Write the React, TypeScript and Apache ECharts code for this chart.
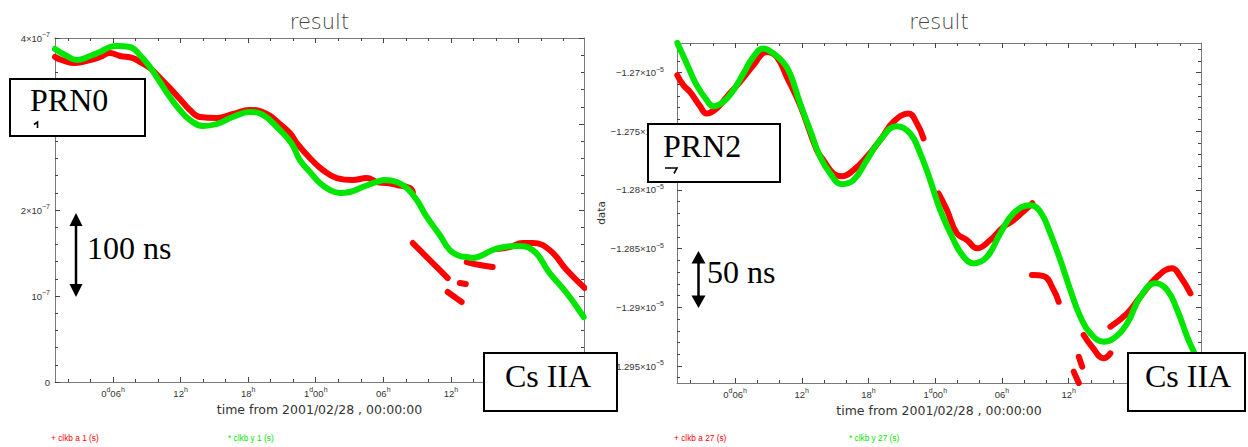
import React, { useEffect, useRef } from "react";
import * as echarts from "echarts";

// ---------- tick values and labels ----------
const hourMajorTicks = [6, 12, 18, 24, 30, 36, 42];
// the 42h label sits behind the "Cs IIA" box in the reference, so only these are labelled
const hourLabelTicks = [6, 12, 18, 24, 30, 36];
const hourLabels = [
  "{n|0}{s|d}{n|06}{s|h}",
  "{n|12}{s|h}",
  "{n|18}{s|h}",
  "{n|1}{s|d}{n|00}{s|h}",
  "{n|06}{s|h}",
  "{n|12}{s|h}",
];
const hourMinorTicks = [2, 4, 8, 10, 14, 16, 20, 22, 26, 28, 32, 34, 38, 40, 44, 46];

const prn0HourRange = [0.85, 47.82];
const prn2HourRange = [0.78, 47.9];

// 3×10⁻⁷ sits behind the "PRN0" box in the reference
const prn0TickValues = [0, 1e-7, 2e-7, 4e-7];
const prn0TickLabels = ["{n|0}", "{n|10}{s|−7}", "{n|2×10}{s|−7}", "{n|4×10}{s|−7}"];
const prn0ValueRange = [0, 4e-7];

const prn2ValueRange = [-1.296448e-5, -1.267487e-5];
const prn2TickValues = [-1.295e-5, -1.29e-5, -1.285e-5, -1.28e-5, -1.275e-5, -1.27e-5];
const prn2TickLabels = [
  "{n|−1.295×10}{s|−5}",
  "{n|−1.29×10}{s|−5}",
  "{n|−1.285×10}{s|−5}",
  "{n|−1.28×10}{s|−5}",
  "{n|−1.275×10}{s|−5}",
  "{n|−1.27×10}{s|−5}",
];
const prn2MinorTicks = [
  -1.296e-5, -1.294e-5, -1.293e-5, -1.292e-5, -1.291e-5, -1.289e-5, -1.288e-5, -1.287e-5,
  -1.286e-5, -1.284e-5, -1.283e-5, -1.282e-5, -1.281e-5, -1.279e-5, -1.278e-5, -1.277e-5,
  -1.276e-5, -1.274e-5, -1.273e-5, -1.272e-5, -1.271e-5, -1.269e-5, -1.268e-5,
];

// ---------- PRN0 (left) ----------
const prn0GreenHours = [
  0.85, 1.74, 2.8, 3.96, 4.84, 5.73, 6.35, 7.5, 8.39, 9.28, 10.17, 11.05, 11.94, 12.83, 13.98,
  15.22, 16.64, 18.15, 19.31, 20.55, 21.83, 22.59, 23.48, 24.36, 25.25, 26.14, 27.03, 28.18,
  29.42, 30.13, 31.2, 32.08, 32.97, 33.86, 35.01, 35.9, 36.79, 37.41, 37.94, 38.83, 39.71, 40.78,
  41.84, 43.26, 44.77, 46.28, 47.79,
];
const prn0GreenValues = [
  3.872e-7, 3.802e-7, 3.744e-7, 3.791e-7, 3.837e-7, 3.895e-7, 3.907e-7, 3.895e-7, 3.802e-7,
  3.663e-7, 3.488e-7, 3.314e-7, 3.163e-7, 3.047e-7, 2.977e-7, 3.0e-7, 3.081e-7, 3.14e-7,
  3.105e-7, 2.965e-7, 2.779e-7, 2.581e-7, 2.442e-7, 2.314e-7, 2.233e-7, 2.198e-7, 2.209e-7,
  2.267e-7, 2.326e-7, 2.349e-7, 2.326e-7, 2.256e-7, 2.116e-7, 1.919e-7, 1.709e-7, 1.535e-7,
  1.465e-7, 1.453e-7, 1.442e-7, 1.477e-7, 1.535e-7, 1.57e-7, 1.581e-7, 1.535e-7, 1.267e-7,
  1.035e-7, 0.756e-7,
];
// null marks a break between separate red segments
const prn0RedHours = [
  0.85, 1.47, 2.62, 3.96, 4.84, 5.73, 6.62, 7.77, 8.39, 9.28, 10.17, 11.05, 11.94, 12.83, 13.72,
  15.22, 16.64, 18.15, 19.66, 20.81, 21.7, 22.32, 23.48, 24.63, 25.87, 27.29, 28.53, 29.42,
  30.31, 31.2, 32.35, 32.62,
  null, 32.62, 33.86, 34.75, 35.72,
  null, 36.79, 37.32,
  null, 35.72, 36.34, 36.96,
  null, 37.41, 38.56, 39.71,
  null, 40.07, 41.22, 42.38, 43.26, 44.77, 46.28, 47.88,
];
const prn0RedValues = [
  3.779e-7, 3.744e-7, 3.709e-7, 3.744e-7, 3.779e-7, 3.826e-7, 3.791e-7, 3.767e-7, 3.721e-7,
  3.651e-7, 3.535e-7, 3.419e-7, 3.291e-7, 3.163e-7, 3.081e-7, 3.07e-7, 3.116e-7, 3.163e-7,
  3.116e-7, 3.0e-7, 2.895e-7, 2.779e-7, 2.605e-7, 2.465e-7, 2.372e-7, 2.349e-7, 2.372e-7,
  2.326e-7, 2.314e-7, 2.291e-7, 2.256e-7, 2.209e-7,
  null, 1.616e-7, 1.453e-7, 1.337e-7, 1.209e-7,
  null, 1.151e-7, 1.14e-7,
  null, 1.047e-7, 0.988e-7, 0.93e-7,
  null, 1.395e-7, 1.36e-7, 1.337e-7,
  null, 1.547e-7, 1.57e-7, 1.616e-7, 1.616e-7, 1.535e-7, 1.302e-7, 1.093e-7,
];

// ---------- PRN2 (right) ----------
const prn2GreenHours = [
  0.81, 1.65, 2.55, 3.45, 4.05, 4.95, 5.85, 6.75, 7.65, 8.55, 9.45, 10.32, 10.95, 11.85, 12.75,
  13.65, 14.55, 15.6, 16.65, 17.85, 19.05, 20.55, 21.75, 22.65, 23.55, 24.45, 25.65, 26.55,
  27.45, 28.66, 29.85, 31.05, 32.55, 33.45, 34.35, 35.25, 36.15, 37.05, 37.95, 39.15, 40.05,
  41.26, 42.45, 43.8, 44.86, 45.76, 46.66, 47.25, 47.94,
];
const prn2GreenValues = [
  -1.26748e-5, -1.26923e-5, -1.27108e-5, -1.27236e-5, -1.27287e-5, -1.2725e-5, -1.27151e-5,
  -1.27009e-5, -1.26867e-5, -1.26796e-5, -1.26838e-5, -1.26912e-5, -1.27009e-5, -1.27264e-5,
  -1.27491e-5, -1.27718e-5, -1.2786e-5, -1.27951e-5, -1.27917e-5, -1.27747e-5, -1.27576e-5,
  -1.27457e-5, -1.27519e-5, -1.27689e-5, -1.27917e-5, -1.28172e-5, -1.28427e-5, -1.2857e-5,
  -1.28626e-5, -1.2857e-5, -1.2837e-5, -1.28198e-5, -1.2813e-5, -1.28187e-5, -1.2837e-5,
  -1.28598e-5, -1.28853e-5, -1.2908e-5, -1.29222e-5, -1.29293e-5, -1.29264e-5, -1.29137e-5,
  -1.2891e-5, -1.28796e-5, -1.28853e-5, -1.29023e-5, -1.29251e-5, -1.29378e-5, -1.29517e-5,
];
const prn2RedHours = [
  0.81, 1.35, 1.95, 2.85, 3.45, 4.35, 5.25, 6.45, 7.65, 8.85, 9.75, 10.65, 11.85, 13.35, 13.95,
  14.85, 15.6, 16.65, 17.85, 19.05, 20.25, 21.6, 22.36, 22.95,
  null, 24.3, 25.05, 25.95, 26.86, 27.76, 28.95, 30.15, 31.05, 32.55, 32.73,
  null, 32.7, 33.74, 34.65, 35.1,
  null, 37.35, 38.1, 39.15, 39.75,
  null, 39.75, 41.26, 42.45, 43.96, 45.31, 46.05, 46.95,
  null, 36.91, 37.22,
  null, 36.45, 36.91,
];
const prn2RedValues = [
  -1.27023e-5, -1.27108e-5, -1.27165e-5, -1.27287e-5, -1.27349e-5, -1.27306e-5, -1.27208e-5,
  -1.2708e-5, -1.26938e-5, -1.26825e-5, -1.26867e-5, -1.27037e-5, -1.27278e-5, -1.27661e-5,
  -1.27747e-5, -1.2786e-5, -1.27883e-5, -1.27832e-5, -1.27718e-5, -1.27576e-5, -1.2742e-5,
  -1.27349e-5, -1.27434e-5, -1.27562e-5,
  null, -1.2803e-5, -1.28172e-5, -1.2837e-5, -1.28427e-5, -1.28498e-5, -1.28427e-5, -1.28314e-5,
  -1.28257e-5, -1.2813e-5, -1.28113e-5,
  null, -1.28725e-5, -1.28734e-5, -1.28853e-5, -1.28953e-5,
  null, -1.29236e-5, -1.29336e-5, -1.29434e-5, -1.29392e-5,
  null, -1.29165e-5, -1.29051e-5, -1.2891e-5, -1.2874e-5, -1.28668e-5, -1.2874e-5, -1.28881e-5,
  null, -1.29421e-5, -1.29506e-5,
  null, -1.29548e-5, -1.29645e-5,
];

// ---------- helpers ----------
const AXIS_COLOR = "#7a7a7a";
const TICK_COLOR = "#444";
const TICK_FONT = "Liberation Sans";
const NAME_FONT = "DejaVu Sans";
const RED = "#ff0000";
const GREEN = "#00e600";

const rich = {
  n: { fontSize: 9.5, fontFamily: TICK_FONT, color: "#333", lineHeight: 14 },
  s: { fontSize: 7, fontFamily: TICK_FONT, color: "#333", verticalAlign: "top", lineHeight: 9 },
};

function labelFor(values: number[], labels: string[], v: number) {
  let best = 0;
  for (let i = 1; i < values.length; i++) {
    if (Math.abs(values[i] - v) < Math.abs(values[best] - v)) best = i;
  }
  return Math.abs(values[best] - v) < Math.abs(values[1] - values[0]) * 0.01 ? labels[best] : "";
}

function segments(hours: (number | null)[], values: (number | null)[]) {
  const out: number[][][] = [];
  let cur: number[][] = [];
  hours.forEach((h, i) => {
    const v = values[i];
    if (h === null || v === null) {
      if (cur.length) out.push(cur);
      cur = [];
    } else cur.push([h, v]);
  });
  if (cur.length) out.push(cur);
  return out;
}

function hourAxis(gridIndex: number, range: number[], position: string, major: boolean, labels: boolean, name?: string) {
  return {
    type: "value",
    gridIndex,
    position,
    min: range[0],
    max: range[1],
    silent: true,
    splitLine: { show: false },
    axisLine: { show: major, onZero: false, lineStyle: { color: AXIS_COLOR, width: 1 } },
    axisTick: {
      show: true,
      inside: true,
      length: major ? 5 : 3,
      customValues: major ? hourMajorTicks : hourMinorTicks,
      lineStyle: { color: TICK_COLOR, width: 1 },
    },
    axisLabel: labels
      ? {
          show: true,
          customValues: hourLabelTicks,
          margin: 4,
          formatter: (v: number) => labelFor(hourLabelTicks, hourLabels, v),
          rich,
        }
      : { show: false },
    name: name || "",
    nameLocation: "middle",
    nameGap: 15,
    nameTextStyle: { fontFamily: NAME_FONT, fontSize: 12.5, color: "#333" },
  };
}

function prn2ValueAxis(position: string, major: boolean, labels: boolean, name?: string) {
  return {
    type: "value",
    gridIndex: 1,
    position,
    min: prn2ValueRange[0],
    max: prn2ValueRange[1],
    silent: true,
    splitLine: { show: false },
    axisLine: { show: major, onZero: false, lineStyle: { color: AXIS_COLOR, width: 1 } },
    axisTick: {
      show: true,
      inside: true,
      length: major ? 5 : 3,
      customValues: major ? prn2TickValues : prn2MinorTicks,
      lineStyle: { color: TICK_COLOR, width: 1 },
    },
    axisLabel: labels
      ? {
          show: true,
          customValues: prn2TickValues,
          margin: 13,
          formatter: (v: number) => labelFor(prn2TickValues, prn2TickLabels, v),
          rich,
        }
      : { show: false },
    name: name || "",
    nameLocation: "middle",
    nameGap: 63,
    nameTextStyle: { fontFamily: NAME_FONT, fontSize: 10.5, color: "#333" },
  };
}

function prn0ValueAxis(position: string, labels: boolean) {
  return {
    type: "value",
    gridIndex: 0,
    position,
    min: prn0ValueRange[0],
    max: prn0ValueRange[1],
    interval: 1e-7,
    silent: true,
    splitLine: { show: false },
    minorSplitLine: { show: false },
    axisLine: { show: true, onZero: false, lineStyle: { color: AXIS_COLOR, width: 1 } },
    axisTick: { show: true, inside: true, length: 5, lineStyle: { color: TICK_COLOR, width: 1 } },
    minorTick: { show: true, splitNumber: 5, length: 3, lineStyle: { color: TICK_COLOR, width: 1 } },
    axisLabel: labels
      ? {
          show: true,
          margin: 5,
          formatter: (v: number) => labelFor(prn0TickValues, prn0TickLabels, v),
          rich,
        }
      : { show: false },
  };
}

function lineSeries(data: number[][], color: string, xAxisIndex: number, yAxisIndex: number, z: number) {
  return {
    type: "line",
    xAxisIndex,
    yAxisIndex,
    data,
    symbol: "none",
    showSymbol: false,
    smooth: 0.45,
    silent: true,
    z,
    lineStyle: { color, width: 6, cap: "round", join: "round" },
    itemStyle: { color },
  };
}

function serifText(text: string, x: number, y: number, size = 32) {
  return {
    type: "text",
    z: 101,
    silent: true,
    style: {
      text,
      x,
      y,
      fontSize: size,
      fontFamily: "Liberation Serif",
      fill: "#000",
      align: "left",
      verticalAlign: "middle",
      textAlign: "left",
      textVerticalAlign: "middle",
    },
  };
}

function boxRect(x: number, y: number, w: number, h: number) {
  return { type: "rect", z: 100, silent: true, shape: { x, y, width: w, height: h }, style: { fill: "#fff", stroke: "#000", lineWidth: 2 } };
}

// cut-off glyph fragments drawn inside the PRN boxes
function fragment(points: number[][]) {
  return { type: "polyline", z: 101, silent: true, shape: { points }, style: { stroke: "#000", lineWidth: 1.6, fill: null } };
}

function arrow(x: number, yTop: number, yBottom: number, head: number, halfW: number) {
  return [
    { type: "line", z: 101, silent: true, shape: { x1: x, y1: yTop + head - 1, x2: x, y2: yBottom - head + 1 }, style: { stroke: "#000", lineWidth: 2.5 } },
    { type: "polygon", z: 101, silent: true, shape: { points: [[x - halfW, yTop + head], [x + halfW, yTop + head], [x, yTop]] }, style: { fill: "#000" } },
    { type: "polygon", z: 101, silent: true, shape: { points: [[x - halfW, yBottom - head], [x + halfW, yBottom - head], [x, yBottom]] }, style: { fill: "#000" } },
  ];
}

function smallText(text: string, x: number, y: number, color: string) {
  return {
    type: "text",
    z: 50,
    silent: true,
    style: { text, x, y, fontSize: 8.3, fontFamily: "Liberation Sans", fill: color, align: "left", verticalAlign: "middle", textAlign: "left", textVerticalAlign: "middle" },
  };
}

function titleText(x: number) {
  return {
    type: "text",
    z: 50,
    silent: true,
    style: {
      text: "result",
      x,
      y: 22,
      fontSize: 21,
      fontWeight: 200,
      fontFamily: NAME_FONT,
      fill: "#444",
      align: "center",
      verticalAlign: "middle",
      textAlign: "center",
      textVerticalAlign: "middle",
    },
  };
}

export default function App() {
  const ref = useRef<HTMLDivElement>(null);

  useEffect(() => {
    if (!ref.current) return;
    const chart = echarts.init(ref.current, undefined, { renderer: "svg" });

    const series: any[] = [];
    segments(prn0RedHours, prn0RedValues).forEach((seg) => series.push(lineSeries(seg, RED, 0, 0, 2)));
    series.push(lineSeries(segments(prn0GreenHours, prn0GreenValues)[0], GREEN, 0, 0, 3));
    segments(prn2RedHours, prn2RedValues).forEach((seg) => series.push(lineSeries(seg, RED, 4, 2, 2)));
    series.push(lineSeries(segments(prn2GreenHours, prn2GreenValues)[0], GREEN, 4, 2, 3));

    const graphic: any[] = [
      titleText(319.5),
      titleText(939),
      // PRN0 box
      boxRect(10, 79, 135, 57),
      serifText("PRN0", 30, 99.5),
      fragment([[34, 124.5], [37.5, 122], [37.5, 128]]),
      // PRN2 box
      boxRect(648, 124, 132, 58),
      serifText("PRN2", 663, 146),
      fragment([[665, 168], [677, 168], [674, 173.5]]),
      // Cs IIA boxes
      boxRect(484, 353, 133, 58),
      serifText("Cs IIA", 505, 376),
      boxRect(1128, 353, 117, 58),
      serifText("Cs IIA", 1145, 376),
      // scale arrows
      ...arrow(76, 213, 297, 13, 6.5),
      serifText("100 ns", 87, 247.5),
      ...arrow(698.5, 251, 308, 12.5, 7),
      serifText("50 ns", 707, 271.5),
      // legends
      smallText("+ clkb a 1 (s)", 51, 438, RED),
      smallText("* clkb y 1 (s)", 228, 438, GREEN),
      smallText("+ clkb a 27 (s)", 674, 438, RED),
      smallText("* clkb y 27 (s)", 849, 438, GREEN),
    ];

    chart.setOption({
      animation: false,
      backgroundColor: "#fff",
      grid: [
        { left: 55, top: 38, width: 529, height: 344, containLabel: false, outerBoundsMode: "none" },
        { left: 677, top: 43, width: 524, height: 340, containLabel: false, outerBoundsMode: "none" },
      ],
      xAxis: [
        hourAxis(0, prn0HourRange, "bottom", true, true, "time from 2001/02/28 , 00:00:00"),
        hourAxis(0, prn0HourRange, "bottom", false, false),
        hourAxis(0, prn0HourRange, "top", true, false),
        hourAxis(0, prn0HourRange, "top", false, false),
        hourAxis(1, prn2HourRange, "bottom", true, true, "time from 2001/02/28 , 00:00:00"),
        hourAxis(1, prn2HourRange, "bottom", false, false),
        hourAxis(1, prn2HourRange, "top", true, false),
        hourAxis(1, prn2HourRange, "top", false, false),
      ],
      yAxis: [
        prn0ValueAxis("left", true),
        prn0ValueAxis("right", false),
        prn2ValueAxis("left", true, true, "data"),
        prn2ValueAxis("left", false, false),
        prn2ValueAxis("right", true, false),
        prn2ValueAxis("right", false, false),
      ],
      series,
      graphic,
    });

    return () => chart.dispose();
  }, []);

  return (
    <div
      ref={ref}
      style={{ position: "absolute", left: 0, top: 0, width: 1248, height: 447, background: "#fff" }}
    />
  );
}
